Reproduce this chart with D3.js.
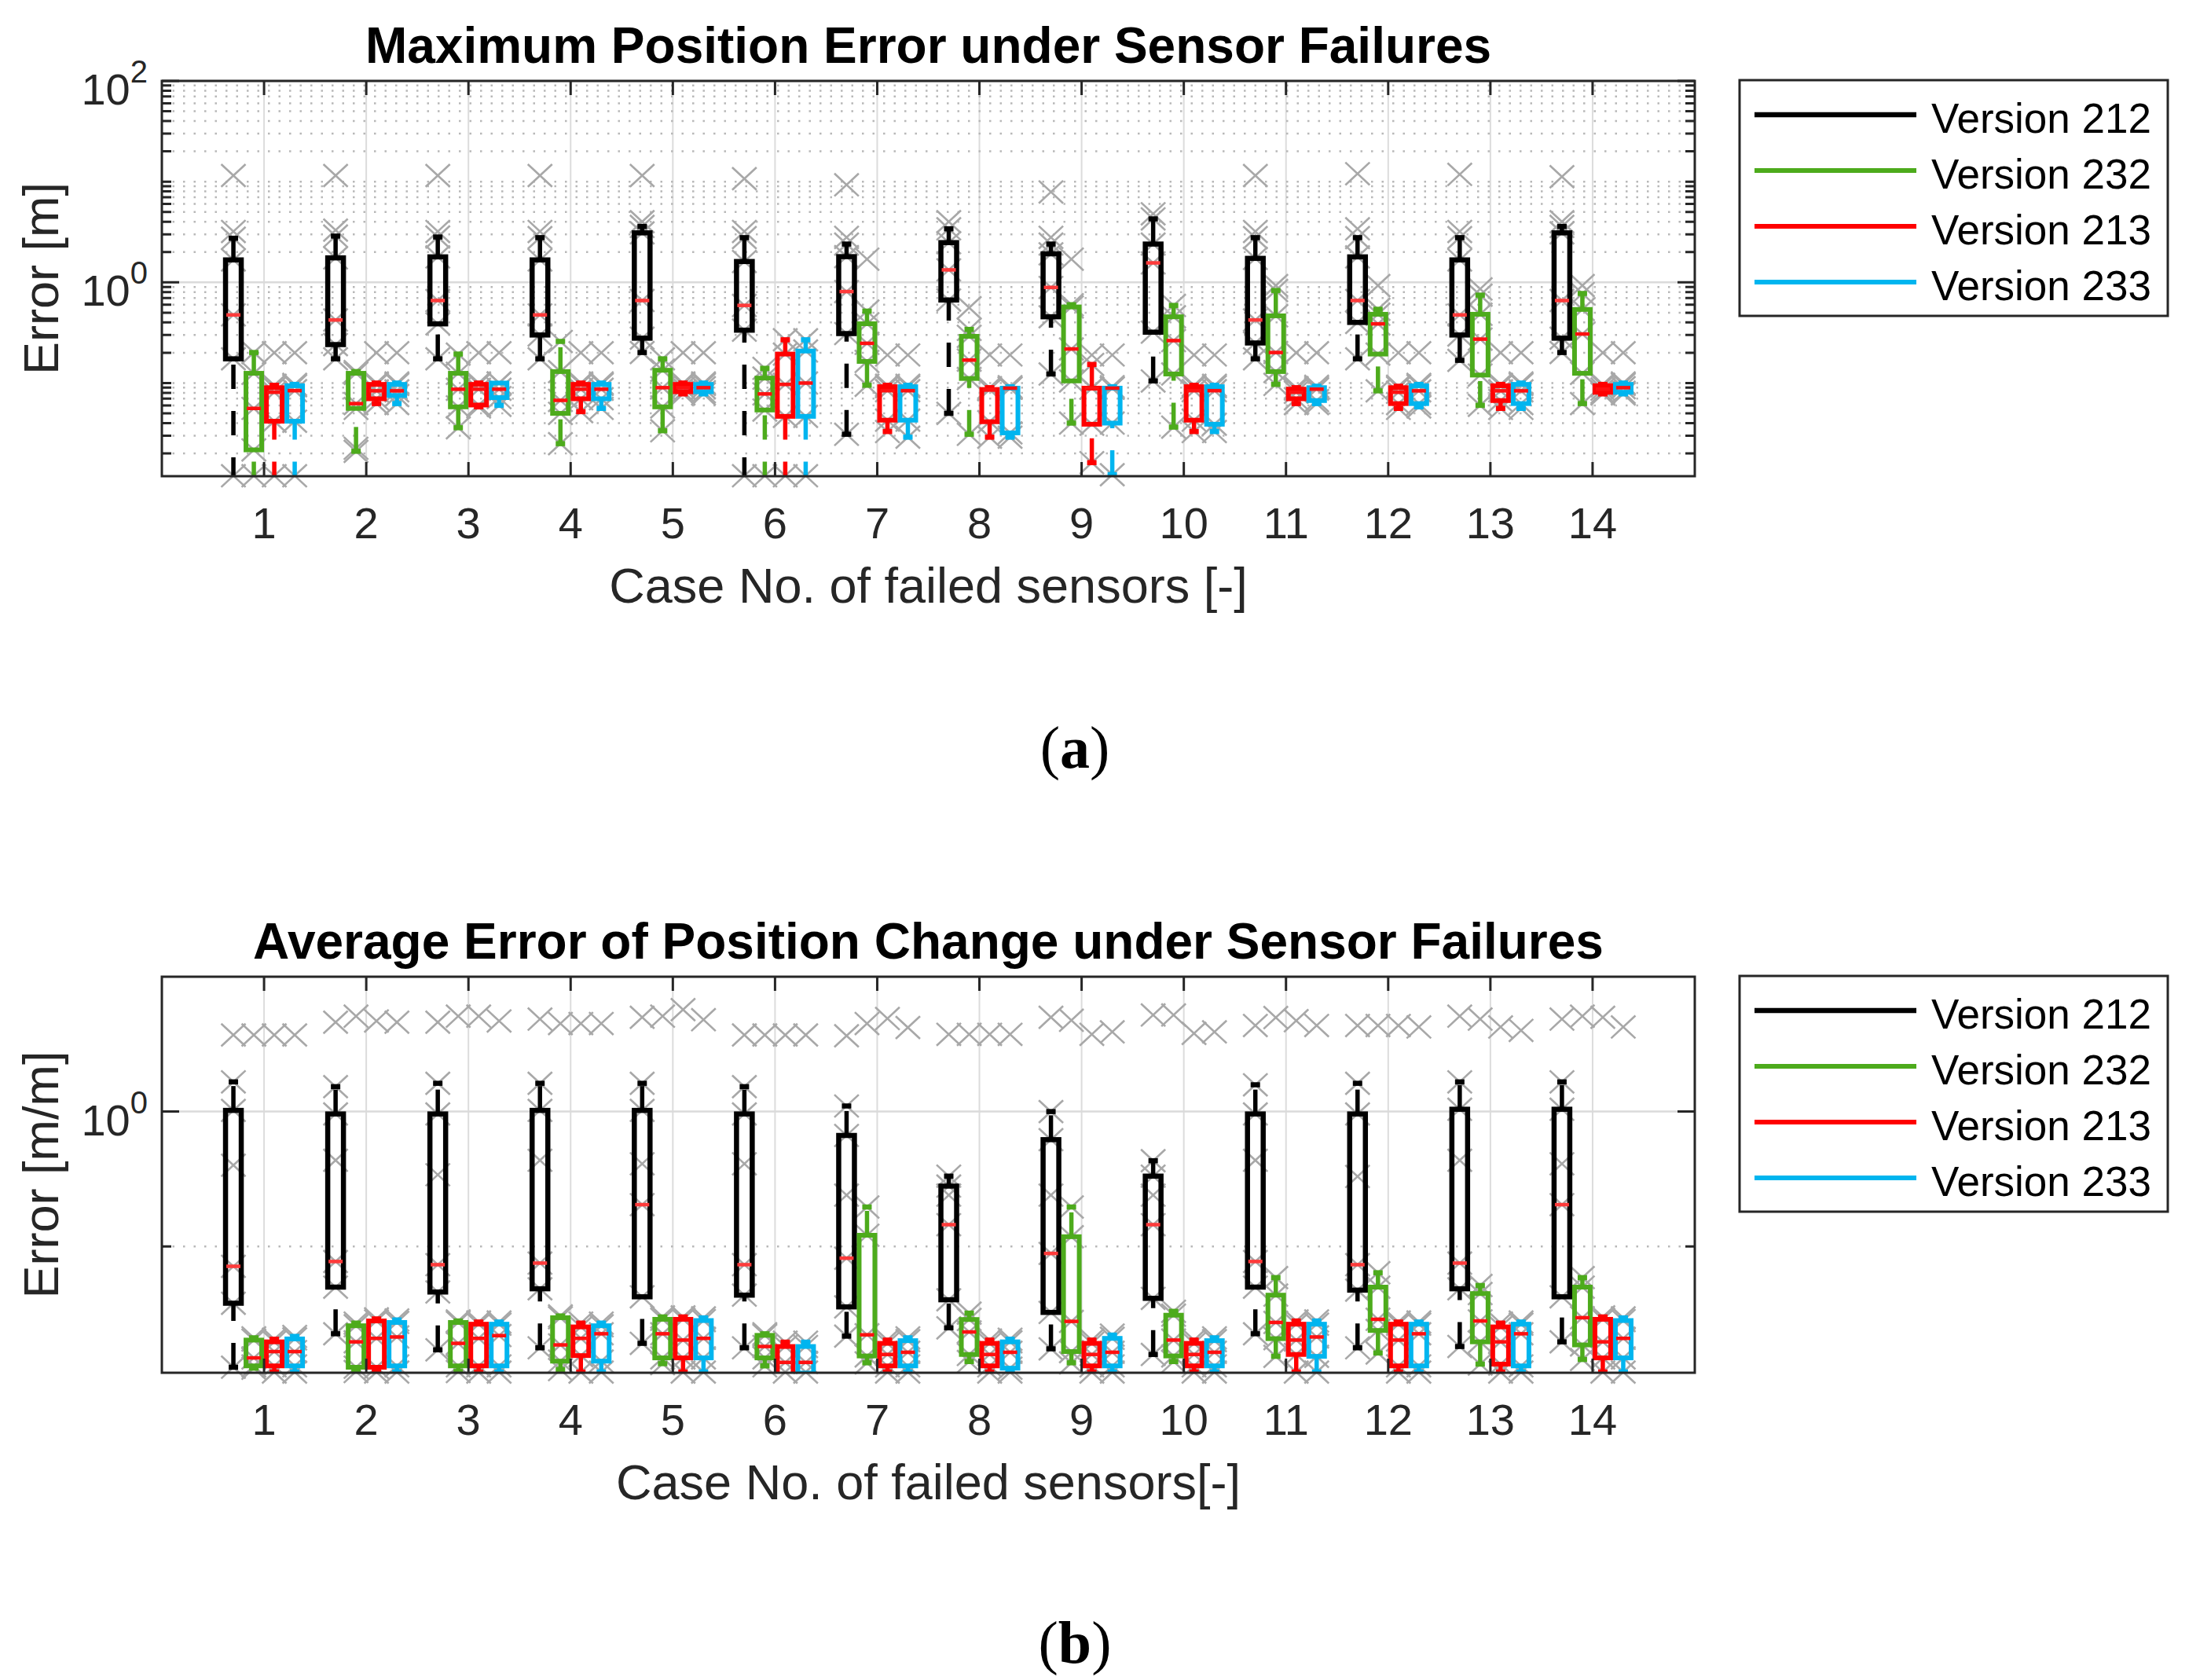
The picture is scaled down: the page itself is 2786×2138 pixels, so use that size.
<!DOCTYPE html>
<html><head><meta charset="utf-8">
<script src="https://cdn.jsdelivr.net/npm/d3@7"></script>
<style>html,body{margin:0;padding:0;background:#fff;} svg{display:block;}</style>
</head><body>
<script>
// ---------------- DATA ----------------
const cases = [1,2,3,4,5,6,7,8,9,10,11,12,13,14];
const versions = ["Version 212","Version 232","Version 213","Version 233"];
const versionColors = ["#000000","#4dab1c","#ff0000","#00b5ef"];

// (a) Maximum position error [m]: per case [lower adjacent, Q1, median, Q3, upper adjacent]
const maxErr212 = [
 [0.0105,0.174,0.475,1.67,2.74],[0.174,0.241,0.423,1.75,2.88],[0.174,0.387,0.66,1.79,2.82],
 [0.174,0.30,0.475,1.67,2.78],[0.201,0.279,0.66,3.1,3.59],[0.0105,0.335,0.59,1.61,2.78],
 [0.031,0.31,0.81,1.80,2.4],[0.050,0.668,1.33,2.48,3.4],[0.123,0.455,0.89,1.92,2.4],
 [0.105,0.32,1.56,2.4,4.27],[0.174,0.25,0.423,1.73,2.78],[0.174,0.40,0.66,1.79,2.78],
 [0.168,0.30,0.475,1.67,2.78],[0.201,0.279,0.66,3.1,3.59]];
const maxErr232 = [
 [0.0095,0.0217,0.056,0.125,0.201],[0.021,0.056,0.0625,0.125,0.13],[0.036,0.058,0.0868,0.125,0.194],
 [0.025,0.050,0.0673,0.13,0.259],[0.0336,0.058,0.09,0.134,0.174],[0.0095,0.054,0.078,0.112,0.14],
 [0.095,0.164,0.248,0.388,0.518],[0.031,0.111,0.169,0.291,0.341],[0.040,0.105,0.218,0.57,0.60],
 [0.0365,0.123,0.264,0.455,0.59],[0.097,0.13,0.201,0.465,0.83],[0.0837,0.194,0.387,0.482,0.54],
 [0.06,0.12,0.273,0.482,0.746],[0.0625,0.125,0.307,0.538,0.775]];
const maxErr213 = [
 [0.0095,0.0418,0.081,0.090,0.095],[0.0625,0.0698,0.0837,0.097,0.10],[0.058,0.0605,0.0868,0.097,0.10],
 [0.052,0.0698,0.0868,0.097,0.10],[0.078,0.082,0.09,0.097,0.10],[0.0095,0.0467,0.097,0.194,0.269],
 [0.033,0.0428,0.084,0.092,0.095],[0.029,0.0413,0.0864,0.0864,0.09],[0.0162,0.039,0.089,0.089,0.153],
 [0.033,0.0428,0.084,0.092,0.095],[0.0625,0.0698,0.081,0.087,0.09],[0.056,0.0625,0.081,0.09,0.093],
 [0.056,0.067,0.0837,0.094,0.097],[0.078,0.081,0.087,0.094,0.097]];
const maxErr233 = [
 [0.0095,0.0418,0.084,0.094,0.097],[0.0625,0.0752,0.0837,0.097,0.10],[0.06,0.0717,0.0868,0.10,0.10],
 [0.056,0.0698,0.0868,0.097,0.10],[0.078,0.082,0.09,0.097,0.10],[0.0095,0.0467,0.10,0.208,0.269],
 [0.029,0.0428,0.084,0.092,0.095],[0.029,0.032,0.089,0.089,0.092],[0.0123,0.040,0.089,0.089,0.092],
 [0.033,0.039,0.084,0.092,0.095],[0.0625,0.067,0.087,0.09,0.093],[0.058,0.0625,0.0837,0.094,0.097],
 [0.056,0.0625,0.0837,0.097,0.10],[0.078,0.081,0.09,0.097,0.10]];
const maxOut212 = [[11.5,3.2,0.012],[11.5,3.3],[11.5,3.2],[11.5,3.2],[11.5,4.0],[10.7,3.2,0.012],[9.3,2.8],[4.0],[7.9,2.8],[4.8],[11.5,3.2],[12,3.4],[11.8,3.2],[11.2,4.0]];
const maxOut232 = [[0.012],[0.0225],[],[],[],[0.012],[1.7],[0.56],[1.7],[],[0.93],[0.93],[0.86],[0.93]];
const maxOut213 = [[0.2,0.012],[0.2],[0.2],[0.2],[0.2],[0.012],[0.19],[0.19],[0.19],[0.19],[0.2],[0.2],[0.2],[0.2]];
const maxOut233 = [[0.2,0.012],[0.2],[0.2],[0.2],[0.2],[0.012],[0.19],[0.19],[0.19],[0.19],[0.2],[0.2],[0.2],[0.2]];

// (b) Average error of position change [m/m]
const avgErr212 = [
 [0.0127,0.0379,0.0712,1.02,1.66],[0.0225,0.0499,0.0773,0.96,1.53],[0.0171,0.0459,0.0732,0.96,1.62],
 [0.0177,0.0485,0.0752,1.02,1.62],[0.0191,0.0423,0.204,1.02,1.62],[0.0177,0.0435,0.0732,0.96,1.53],
 [0.0216,0.0356,0.0818,0.665,1.1],[0.0249,0.0402,0.145,0.28,0.332],[0.0174,0.0324,0.0887,0.619,1.0],
 [0.0158,0.0412,0.145,0.332,0.432],[0.0225,0.0499,0.0773,0.96,1.58],[0.0177,0.0474,0.0732,0.96,1.62],
 [0.0181,0.0485,0.0752,1.04,1.66],[0.0196,0.0423,0.204,1.04,1.66]];
const avgErr232 = [
 [0.0125,0.013,0.0149,0.0202,0.021],[0.0118,0.0127,0.0196,0.0258,0.027],[0.0118,0.013,0.0191,0.0273,0.028],
 [0.0122,0.0141,0.0186,0.0296,0.0305],[0.0135,0.0149,0.0225,0.0288,0.03],[0.013,0.0149,0.0181,0.0219,0.0225],
 [0.0137,0.0154,0.0221,0.121,0.196],[0.014,0.0158,0.0232,0.0287,0.032],[0.0137,0.0166,0.0278,0.118,0.196],
 [0.014,0.0154,0.0202,0.0309,0.033],[0.0153,0.0207,0.0273,0.0435,0.0587],[0.0162,0.0238,0.0288,0.0499,0.0638],
 [0.0134,0.0196,0.028,0.0447,0.0513],[0.0145,0.0186,0.0296,0.0499,0.0587]];
const avgErr213 = [
 [0.0117,0.013,0.0166,0.0196,0.0205],[0.0117,0.0127,0.0208,0.028,0.029],[0.0117,0.013,0.0208,0.0265,0.0275],
 [0.0117,0.0155,0.0208,0.0253,0.027],[0.0117,0.0149,0.0202,0.0288,0.03],[0.0105,0.0112,0.0138,0.0181,0.0195],
 [0.0117,0.013,0.0158,0.0191,0.0202],[0.0117,0.013,0.0158,0.0191,0.0202],[0.0117,0.013,0.0158,0.0191,0.0202],
 [0.0117,0.013,0.0158,0.0191,0.0202],[0.0117,0.0158,0.0202,0.0265,0.028],[0.0117,0.013,0.0202,0.0265,0.0275],
 [0.0117,0.0134,0.0196,0.0253,0.027],[0.0117,0.0149,0.0196,0.0288,0.03]];
const avgErr233 = [
 [0.0117,0.013,0.0166,0.0206,0.0215],[0.0117,0.013,0.0213,0.0273,0.0285],[0.0117,0.013,0.0218,0.0265,0.0275],
 [0.0117,0.0141,0.0225,0.0258,0.027],[0.0117,0.0149,0.0208,0.0282,0.0295],[0.0105,0.0115,0.0138,0.0181,0.0195],
 [0.0117,0.013,0.0164,0.0200,0.021],[0.0117,0.0125,0.0164,0.0196,0.0205],[0.0117,0.013,0.0164,0.0208,0.022],
 [0.0117,0.013,0.0164,0.0200,0.021],[0.0117,0.0153,0.0213,0.0265,0.028],[0.0117,0.013,0.0225,0.0265,0.0275],
 [0.0117,0.013,0.0225,0.0265,0.0275],[0.0117,0.0149,0.0208,0.0282,0.0295]];
const avgOut212 = [[3.7,0.40],[4.6,0.435],[4.6,0.34],[4.85,0.435],[5.0,0.41],[3.7,0.41],[3.65,0.24],[3.74,0.24],[5.0,0.24],[5.2,0.24],[4.35,0.435],[4.35,0.33],[5.1,0.435],[4.85,0.41]];
const avgOut232 = [[3.7],[5.1],[5.1],[4.5],[5.1],[3.7],[4.5],[3.74],[4.75],[5.2],[4.98],[4.35],[4.85],[5.1]];
const avgOut213 = [[3.7],[4.7],[5.1],[4.5],[5.7],[3.7,0.0117],[4.9],[3.74],[3.74],[3.8],[4.72],[4.35],[4.24],[5.0]];
const avgOut233 = [[3.7],[4.6],[4.7],[4.5],[4.8],[3.7,0.0117],[4.2],[3.74],[3.9],[3.9],[4.35],[4.24],[4.0],[4.24]];

const maxYTickValues = [1, 100];
const maxYTickExps = ["0", "2"];
const avgYTickValues = [1];
const avgYTickExps = ["0"];

// ---------------- DRAWING ----------------
const W = 2786, H = 2138;
const L = 206, R = 2157;
const FONT = "'Liberation Sans', Arial, Helvetica, sans-serif";
const AX = "#262626";
const offsets = [-0.3, -0.1, 0.1, 0.3];
const BW = 20;

const svg = d3.select("body").append("svg").attr("width", W).attr("height", H)
  .style("background", "#fff");

function xMark(g, cx, cy) {
  const s = 15.5;
  g.append("path").attr("d", `M${cx-s},${cy-s*0.93}L${cx+s},${cy+s*0.93}M${cx-s},${cy+s*0.93}L${cx+s},${cy-s*0.93}`)
    .attr("stroke", "#a8a8a8").attr("stroke-width", 2.6).attr("fill", "none");
}

function drawPanel(p) {
  const x = d3.scaleLinear().domain([0, 15]).range([L, R]);
  const y = d3.scaleLog().domain([p.yMin, p.yMax]).range([p.bottom, p.top]);
  const g = svg.append("g");
  const clipId = "clip" + p.id;
  svg.append("clipPath").attr("id", clipId).append("rect")
    .attr("x", L).attr("y", p.top).attr("width", R - L).attr("height", p.bottom - p.top);

  const minor = [];
  for (let e = -3; e <= 2; e++) for (let k = 1; k <= 9; k++) {
    const v = k * Math.pow(10, e);
    if (v > p.yMin * 1.0001 && v < p.yMax * 0.9999 && !p.tickValues.some(t => Math.abs(t - v) / v < 1e-6)) {
      if (p.decadeMinorOnly && k !== 1) continue;
      minor.push(v);
    }
  }

  // grid
  g.append("g").selectAll("line").data(cases).join("line")
    .attr("x1", d => x(d)).attr("x2", d => x(d)).attr("y1", p.top).attr("y2", p.bottom)
    .attr("stroke", "#dcdcdc").attr("stroke-width", 2);
  g.append("g").selectAll("line").data(minor).join("line")
    .attr("x1", L).attr("x2", R).attr("y1", d => y(d)).attr("y2", d => y(d))
    .attr("stroke", "#b8b8b8").attr("stroke-width", 2.5).attr("stroke-dasharray", "2.5,11");
  g.append("g").selectAll("line").data(p.tickValues).join("line")
    .attr("x1", L).attr("x2", R).attr("y1", d => y(d)).attr("y2", d => y(d))
    .attr("stroke", "#dadada").attr("stroke-width", 2.5);

  // gray x markers (data points), beneath the boxes
  const mg = g.append("g");
  p.series.forEach((stats, si) => {
    stats.forEach((st, ci) => {
      const cx = x(cases[ci] + offsets[si]);
      const pts = st.concat(p.outliers[si][ci]);
      pts.forEach(v => {
        if (v >= p.yMin * 0.999 && v <= p.yMax) xMark(mg, cx, y(v));
      });
    });
  });

  // boxes
  const bg = g.append("g").attr("clip-path", `url(#${clipId})`);
  p.series.forEach((stats, si) => {
    const col = versionColors[si];
    const sw = si === 0 ? 6.5 : 6;
    stats.forEach((st, ci) => {
      const cx = x(cases[ci] + offsets[si]);
      const [lo, q1, med, q3, hi] = st;
      if (hi > q3) {
        bg.append("line").attr("x1", cx).attr("x2", cx).attr("y1", y(q3)).attr("y2", y(hi))
          .attr("stroke", col).attr("stroke-width", 5.5).attr("stroke-dasharray", "31,28");
        bg.append("line").attr("x1", cx - 6).attr("x2", cx + 6).attr("y1", y(hi)).attr("y2", y(hi))
          .attr("stroke", col).attr("stroke-width", 6.5);
      }
      if (lo < q1) {
        bg.append("line").attr("x1", cx).attr("x2", cx).attr("y1", y(lo)).attr("y2", y(q1))
          .attr("stroke", col).attr("stroke-width", 5.5).attr("stroke-dasharray", "31,28");
        bg.append("line").attr("x1", cx - 6).attr("x2", cx + 6).attr("y1", y(lo)).attr("y2", y(lo))
          .attr("stroke", col).attr("stroke-width", 6.5);
      }
      bg.append("rect").attr("x", cx - BW / 2).attr("y", y(q3)).attr("width", BW)
        .attr("height", Math.max(0.5, y(q1) - y(q3)))
        .attr("fill", "none").attr("stroke", col).attr("stroke-width", sw);
      bg.append("line").attr("x1", cx - BW / 2 + 1).attr("x2", cx + BW / 2 - 1).attr("y1", y(med)).attr("y2", y(med))
        .attr("stroke", si === 0 ? "#ff3a3a" : "#ff1010").attr("stroke-width", 4.5);
    });
  });

  // axes frame
  g.append("rect").attr("x", L).attr("y", p.top).attr("width", R - L).attr("height", p.bottom - p.top)
    .attr("fill", "none").attr("stroke", AX).attr("stroke-width", 3);

  // ticks
  const tk = g.append("g").attr("stroke", AX).attr("stroke-width", 3);
  tk.selectAll(".xt").data(cases).join("path")
    .attr("d", d => `M${x(d)},${p.top}v18M${x(d)},${p.bottom}v-18`);
  tk.selectAll(".ym").data(p.tickValues).join("path")
    .attr("d", d => `M${L},${y(d)}h22M${R},${y(d)}h-22`);
  tk.selectAll(".yn").data(minor).join("path")
    .attr("d", d => `M${L},${y(d)}h12M${R},${y(d)}h-12`);

  // tick labels
  g.append("g").selectAll("text").data(cases).join("text")
    .attr("x", d => x(d)).attr("y", p.bottom + 79)
    .attr("text-anchor", "middle").attr("font-family", FONT).attr("font-size", 56).attr("fill", AX)
    .text(d => d);
  const yl = g.append("g").selectAll("text").data(p.tickValues).join("text")
    .attr("x", 188).attr("y", d => y(d) + 30)
    .attr("text-anchor", "end").attr("font-family", FONT).attr("font-size", 56).attr("fill", AX);
  yl.append("tspan").text("10");
  yl.append("tspan").attr("dy", -28).attr("font-size", 40).text((d, i) => p.tickExps[i]);

  // labels
  g.append("text").attr("x", (L + R) / 2).attr("y", p.bottom + 161).attr("text-anchor", "middle")
    .attr("font-family", FONT).attr("font-size", 63).attr("fill", AX).text(p.xlabel);
  g.append("text").attr("transform", `translate(74,${(p.top + p.bottom) / 2}) rotate(-90)`)
    .attr("text-anchor", "middle").attr("font-family", FONT).attr("font-size", 63).attr("fill", AX).text(p.ylabel);
  g.append("text").attr("x", (L + R) / 2).attr("y", p.top - 23).attr("text-anchor", "middle")
    .attr("font-family", FONT).attr("font-size", 64).attr("font-weight", "bold").attr("fill", "#000").text(p.title);

  // legend
  const lg = g.append("g");
  lg.append("rect").attr("x", 2214).attr("y", p.legendTop).attr("width", 545).attr("height", 300)
    .attr("fill", "#fff").attr("stroke", AX).attr("stroke-width", 3);
  lg.selectAll("line").data(versions).join("line")
    .attr("x1", 2233).attr("x2", 2439).attr("y1", (d, i) => p.legendTop + 44 + i * 71).attr("y2", (d, i) => p.legendTop + 44 + i * 71)
    .attr("stroke", (d, i) => versionColors[i]).attr("stroke-width", (d, i) => i === 0 ? 6.5 : 6);
  lg.selectAll("text").data(versions).join("text")
    .attr("x", 2458).attr("y", (d, i) => p.legendTop + 44 + i * 71 + 23)
    .attr("font-family", FONT).attr("font-size", 53).attr("fill", "#000").text(d => d);

  // caption
  const cap = g.append("text").attr("x", 1368).attr("y", p.captionY).attr("text-anchor", "middle")
    .attr("font-family", "'Liberation Serif', 'Times New Roman', serif").attr("font-size", 76).attr("fill", "#000");
  cap.append("tspan").text("(");
  cap.append("tspan").attr("font-weight", "bold").text(p.caption);
  cap.append("tspan").text(")");
}

drawPanel({
  id: "a", top: 103, bottom: 606, yMin: 0.01189, yMax: 100,
  tickValues: maxYTickValues, tickExps: maxYTickExps, decadeMinorOnly: false,
  series: [maxErr212, maxErr232, maxErr213, maxErr233],
  outliers: [maxOut212, maxOut232, maxOut213, maxOut233],
  title: "Maximum Position Error under Sensor Failures",
  xlabel: "Case No. of failed sensors [-]", ylabel: "Error [m]",
  legendTop: 102, caption: "a", captionY: 977
});
drawPanel({
  id: "b", top: 1243, bottom: 1747, yMin: 0.01156, yMax: 10,
  tickValues: avgYTickValues, tickExps: avgYTickExps, decadeMinorOnly: true,
  series: [avgErr212, avgErr232, avgErr213, avgErr233],
  outliers: [avgOut212, avgOut232, avgOut213, avgOut233],
  title: "Average Error of Position Change under Sensor Failures",
  xlabel: "Case No. of failed sensors[-]", ylabel: "Error [m/m]",
  legendTop: 1242, caption: "b", captionY: 2116
});
</script>
</body></html>
